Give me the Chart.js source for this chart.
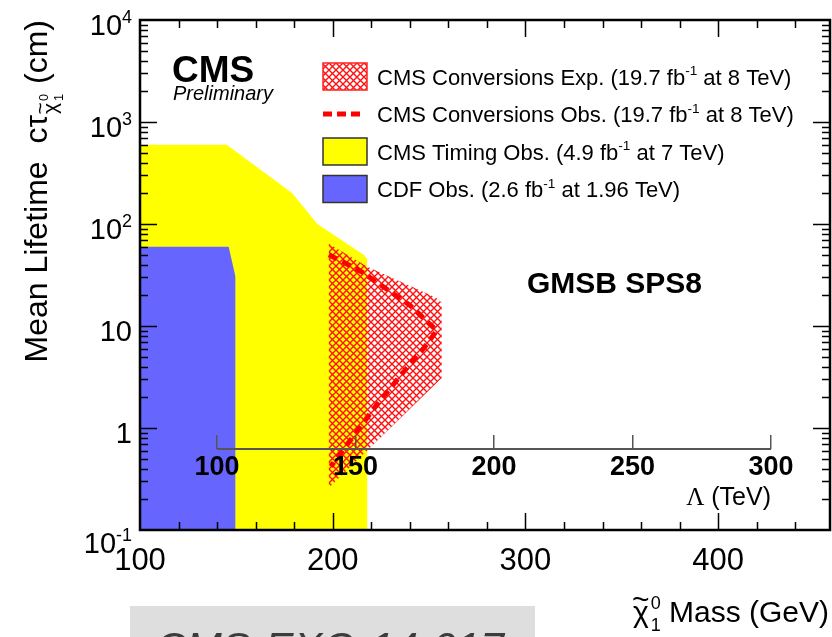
<!DOCTYPE html>
<html>
<head>
<meta charset="utf-8">
<script src="https://cdn.jsdelivr.net/npm/chart.js@4.4.1/dist/chart.umd.min.js"></script>
<style>
  html, body { margin: 0; padding: 0; background: #fff; }
  #wrap { width: 832px; height: 637px; }
</style>
</head>
<body>
<div id="wrap"><canvas id="myChart" width="832" height="637"></canvas></div>
<script>
// values (mass in GeV, lifetime in cm, Lambda in TeV)
const massTicks = [100, 200, 300, 400];
const lifetimeTicks = [0.1, 1, 10, 100, 1000, 10000];
const lambdaTicks = [100, 150, 200, 250, 300];

const expMass = [198, 198, 218, 253.5, 256.5, 256.5];
const expTau = [0.26, 64, 38, 19, 17, 3.1];

const obsMass = [198, 215, 240, 254, 247, 239, 223, 213, 199];
const obsTau = [50, 34, 16, 9, 6, 4, 1.7, 0.95, 0.42];

const timingMass = [100, 145, 179, 192, 216, 218, 218];
const timingTau = [600, 600, 200, 100, 50, 45, 0.1];

const cdfMass = [100, 146, 149.6, 149.6];
const cdfTau = [60, 60, 30, 0.1];

const seriesLabels = [
  'CMS Conversions Exp. (19.7 fb^{-1} at 8 TeV)',
  'CMS Conversions Obs. (19.7 fb^{-1} at 8 TeV)',
  'CMS Timing Obs. (4.9 fb^{-1} at 7 TeV)',
  'CDF Obs. (2.6 fb^{-1} at 1.96 TeV)'
];

const SANS = '"Liberation Sans", Arial, Helvetica, sans-serif';
const SERIF = '"Liberation Serif", "Times New Roman", serif';

const ctx = document.getElementById('myChart').getContext('2d');

// red cross hatch like ROOT fill style 3144
function hatch(color) {
  const c = document.createElement('canvas');
  c.width = 7; c.height = 7;
  const g = c.getContext('2d');
  g.strokeStyle = color;
  g.lineWidth = 1.4;
  g.beginPath();
  g.moveTo(-1, -1); g.lineTo(8, 8);
  g.moveTo(8, -1); g.lineTo(-1, 8);
  g.stroke();
  return ctx.createPattern(c, 'repeat');
}

const xy = (xs, ys) => xs.map((x, i) => ({ x: x, y: ys[i] }));

// text with ^{...} superscripts
function richWidth(c, text, size, style) {
  let w = 0;
  text.split(/\^\{([^}]*)\}/).forEach((p, i) => {
    const s = i % 2 ? size * 0.62 : size;
    c.font = style + ' ' + s + 'px ' + SANS;
    w += c.measureText(p).width;
  });
  return w;
}
function drawRich(c, text, x, y, size, style) {
  let cx = x;
  text.split(/\^\{([^}]*)\}/).forEach((p, i) => {
    const sup = i % 2 === 1;
    const s = sup ? size * 0.62 : size;
    c.font = style + ' ' + s + 'px ' + SANS;
    c.fillText(p, cx, sup ? y - size * 0.42 : y);
    cx += c.measureText(p).width;
  });
}

// chi~ with sub 1 and sup 0
function chiWidth(c, size) {
  c.font = size + 'px ' + SANS;
  const w = c.measureText('\u03c7').width;
  c.font = (size * 0.6) + 'px ' + SANS;
  return w + 2 + c.measureText('0').width;
}
function drawChi(c, x, y, size) {
  c.font = size + 'px ' + SANS;
  const w = c.measureText('\u03c7').width;
  c.fillText('\u03c7', x, y);
  c.textAlign = 'center';
  c.fillText('~', x + w / 2, y - size * 0.45);
  c.textAlign = 'left';
  c.font = (size * 0.6) + 'px ' + SANS;
  c.fillText('0', x + w + 2, y - size * 0.42);
  c.fillText('1', x + w + 2, y + size * 0.3);
}

const rootStyle = {
  id: 'rootStyle',
  afterDatasetsDraw(chart) {
    const c = chart.ctx;
    const lam = chart.scales.lam;
    const py = chart.scales.y.getPixelForValue(chart.options.scales.lam.position.y);
    c.save();
    c.strokeStyle = '#555';
    c.lineWidth = 2;
    c.beginPath();
    c.moveTo(lam.getPixelForValue(lambdaTicks[0]), py);
    c.lineTo(lam.getPixelForValue(lambdaTicks[lambdaTicks.length - 1]), py);
    c.stroke();
    c.restore();
  },
  afterDraw(chart) {
    const c = chart.ctx;
    const { left, right, top, bottom } = chart.chartArea;
    const xs = chart.scales.x, ys = chart.scales.y, lam = chart.scales.lam;
    c.save();

    // frame and inward ticks
    c.strokeStyle = '#000';
    c.lineWidth = 1.5;
    c.beginPath();
    const step = (massTicks[1] - massTicks[0]) / 5;
    for (let v = xs.min + step; v < xs.max; v += step) {
      const px = Math.round(xs.getPixelForValue(v)) + 0.5;
      const len = Math.abs(v % 100) < 1e-6 ? 17 : 8;
      c.moveTo(px, bottom); c.lineTo(px, bottom - len);
      c.moveTo(px, top); c.lineTo(px, top + len);
    }
    lifetimeTicks.forEach(d => {
      for (let k = 1; k <= 9; k++) {
        const v = d * k;
        if (v <= ys.min || v >= ys.max) continue;
        const py = Math.round(ys.getPixelForValue(v)) + 0.5;
        const len = k === 1 ? 17 : 8;
        c.moveTo(left, py); c.lineTo(left + len, py);
        c.moveTo(right, py); c.lineTo(right - len, py);
      }
    });
    c.stroke();
    c.lineWidth = 2.5;
    c.strokeRect(left, top, right - left, bottom - top);

    // y tick labels with exponents
    c.fillStyle = '#000';
    c.textBaseline = 'alphabetic';
    lifetimeTicks.forEach((v, i) => {
      const e = Math.round(Math.log10(v));
      const txt = v === 1 ? '1' : v === 10 ? '10' : '10^{' + e + '}';
      const py = ys.getPixelForValue(v) + (i === 0 ? 23 : 15);
      const w = richWidth(c, txt, 29, '');
      drawRich(c, txt, 132 - w, py, 29, '');
    });

    // y title (rotated)
    c.save();
    c.translate(47, 22);
    c.rotate(-Math.PI / 2);
    const ts = 32;
    c.font = ts + 'px ' + SANS;
    const p1 = 'Mean Lifetime  c\u03c4', p2 = ' (cm)';
    const w1 = c.measureText(p1).width, w2 = c.measureText(p2).width;
    const cw = chiWidth(c, ts * 0.66);
    let tx = -(w1 + cw + w2);
    c.font = ts + 'px ' + SANS;
    c.fillText(p1, tx, 0);
    tx += w1;
    drawChi(c, tx + 1, ts * 0.3, ts * 0.66);
    tx += cw + 2;
    c.font = ts + 'px ' + SANS;
    c.fillText(p2, tx, 0);
    c.restore();

    // x title
    const xsz = 30;
    c.font = xsz + 'px ' + SANS;
    const mw = c.measureText(' Mass (GeV)').width;
    const chw = chiWidth(c, xsz);
    const x0 = 829 - mw - chw;
    drawChi(c, x0, 622, xsz);
    c.font = xsz + 'px ' + SANS;
    c.fillText(' Mass (GeV)', x0 + chw, 622);

    // Lambda axis title
    c.font = '25px ' + SANS;
    const tev = ' (TeV)';
    const tw = c.measureText(tev).width;
    const lx = lam.getPixelForValue(lambdaTicks[lambdaTicks.length - 1]);
    c.fillText(tev, lx - tw, 505);
    c.font = '25px ' + SERIF;
    const lw = c.measureText('\u039b').width;
    c.fillText('\u039b', lx - tw - lw, 505);

    // CMS labels
    c.font = 'bold 37px ' + SANS;
    c.fillText('CMS', 172, 82);
    c.font = 'italic 20px ' + SANS;
    c.fillText('Preliminary', 173, 100);
    c.font = 'bold 30px ' + SANS;
    c.fillText('GMSB SPS8', 527, 293);

    // legend
    chart.data.datasets.forEach((ds, i) => {
      const cy = 76.5 + i * 37.5;
      if (ds.fill === false) {
        c.save();
        c.strokeStyle = ds.borderColor;
        c.lineWidth = ds.borderWidth;
        c.setLineDash([9, 5]);
        c.beginPath();
        c.moveTo(323, cy); c.lineTo(361, cy);
        c.stroke();
        c.restore();
      } else {
        c.fillStyle = ds.backgroundColor;
        c.fillRect(323, cy - 13.5, 44, 27);
        c.strokeStyle = ds.legendBorder;
        c.lineWidth = 1.5;
        c.strokeRect(323, cy - 13.5, 44, 27);
      }
      c.fillStyle = '#000';
      drawRich(c, ds.label, 377, cy + 8, 22, '');
    });

    // report number box
    c.fillStyle = '#dedede';
    c.fillRect(130, 606, 405, 31);
    c.fillStyle = '#3c3c3c';
    c.font = 'italic 43px ' + SANS;
    c.fillText('CMS-EXO-14-017', 155, 662);

    c.restore();
  }
};

new Chart(ctx, {
  type: 'scatter',
  data: {
    datasets: [
      {
        label: seriesLabels[0],
        data: xy(expMass, expTau),
        showLine: true, fill: 'shape', tension: 0,
        backgroundColor: hatch('#ff1010'),
        borderColor: 'rgba(0,0,0,0)', borderWidth: 0,
        pointRadius: 0, order: 2, legendBorder: '#ff2020'
      },
      {
        label: seriesLabels[1],
        data: xy(obsMass, obsTau),
        showLine: true, fill: false, tension: 0,
        borderColor: '#ff0000', borderWidth: 5, borderDash: [9, 6],
        pointRadius: 0, order: 1
      },
      {
        label: seriesLabels[2],
        data: xy(timingMass, timingTau),
        showLine: true, fill: 'start', tension: 0,
        backgroundColor: '#ffff00',
        borderColor: 'rgba(0,0,0,0)', borderWidth: 0,
        pointRadius: 0, order: 4, legendBorder: '#333333'
      },
      {
        label: seriesLabels[3],
        data: xy(cdfMass, cdfTau),
        showLine: true, fill: 'start', tension: 0,
        backgroundColor: '#6666ff',
        borderColor: 'rgba(0,0,0,0)', borderWidth: 0,
        pointRadius: 0, order: 3, legendBorder: '#333333'
      }
    ]
  },
  options: {
    responsive: false,
    animation: false,
    devicePixelRatio: 1,
    layout: { padding: { top: 20, right: 2, left: 0, bottom: 0 } },
    plugins: { legend: { display: false }, tooltip: { enabled: false } },
    scales: {
      x: {
        type: 'linear', min: 100, max: 458,
        afterBuildTicks: s => { s.ticks = massTicks.map(v => ({ value: v })); },
        afterFit: s => { s.height = 107; },
        grid: { display: false },
        border: { display: false },
        ticks: {
          color: '#000', padding: 5, maxRotation: 0, autoSkip: false,
          font: { family: SANS, size: 31 }
        }
      },
      y: {
        type: 'logarithmic', min: 0.1, max: 10000,
        afterBuildTicks: s => { s.ticks = lifetimeTicks.map(v => ({ value: v })); },
        afterFit: s => { s.width = 140; },
        grid: { display: false },
        border: { display: false },
        ticks: { display: false }
      },
      lam: {
        type: 'linear', axis: 'x',
        position: { y: 0.622 },
        min: 72.2, max: 321.3,
        afterBuildTicks: s => { s.ticks = lambdaTicks.map(v => ({ value: v })); },
        grid: { z: 1, drawOnChartArea: false, drawTicks: true, tickLength: -14, color: '#555', lineWidth: 1.5 },
        border: { display: false, z: 1 },
        ticks: {
          z: 1, color: '#000', padding: 16, maxRotation: 0, autoSkip: false,
          font: { family: SANS, size: 27, weight: 'bold' }
        }
      }
    }
  },
  plugins: [rootStyle]
});
</script>
</body>
</html>
